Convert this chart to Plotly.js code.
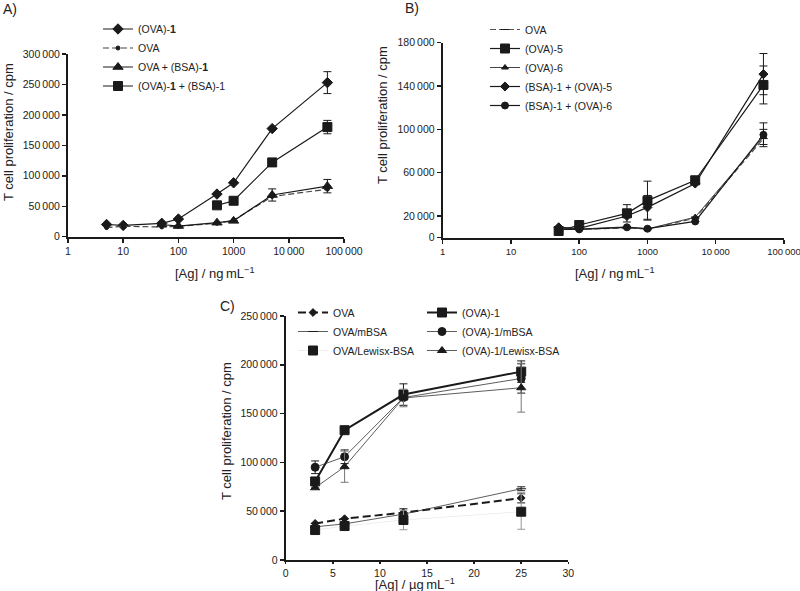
<!DOCTYPE html>
<html lang="en">
<head>
    <meta charset="UTF-8"/>
    <title>T cell proliferation</title>
    <script src="https://cdn.plot.ly/plotly-3.0.1.min.js"></script>
    <style>
    body { margin: 0; background: white; }
    #chart { width: 800px; height: 591px; }
    </style>
</head>
<body>
    <div id="chart"></div>
    <script>
        //=============================================================
        // Data

        // A) antigen in ng/mL, log scale
        var concA = [5, 10, 50, 100, 500, 1000, 5000, 50000];
        var ova1A = [20000, 18500, 22000, 29000, 70000, 88500, 177500, 253000];
        var ova1AErr = [null, null, null, null, null, null, null, 18000];
        var ovaA = [15000, 17000, 16000, 17000, 22000, 27000, 66000, 78000];
        var concA2 = [50, 100, 500, 1000, 5000, 50000];
        var ovaBsa1A = [20000, 17500, 23000, 26000, 68500, 83000];
        var ovaBsa1AErr = [null, null, null, null, 10000, 11000];
        var concA3 = [500, 1000, 5000, 50000];
        var ova1Bsa1A = [51500, 59000, 122000, 180000];
        var ova1Bsa1AErr = [null, null, null, 11000];

        // B)
        var concB = [50, 100, 500, 1000, 5000, 50000];
        var ovaB = [7500, 7700, 9000, 8000, 18000, 91500];
        var ova5B = [6200, 11700, 22500, 34200, 53000, 141000];
        var ova5BErr = [null, null, 8000, 18000, null, 17500];
        var ova6B = [9000, 8000, 10000, 8000, 19000, 93000];
        var ova6BErr = [null, null, null, null, null, 7000];
        var bsa1Ova5B = [9600, 8700, 20000, 28000, 50000, 151000];
        var bsa1Ova5BErr = [null, null, null, 11000, null, 19000];
        var bsa1Ova6B = [7700, 7700, 9600, 8300, 15000, 95000];
        var bsa1Ova6BErr = [null, null, null, null, null, 11000];

        // C) antigen in ug/mL, linear scale
        var concC = [3.125, 6.25, 12.5, 25];
        var ovaC = [37500, 42300, 48500, 63500];
        var ovaCErr = [null, null, 4000, 5000];
        var ovaMbsaC = [34000, 37000, 47000, 73000];
        var ovaMbsaCErr = [null, null, null, 2000];
        var ovaLewisC = [30700, 34800, 41000, 49500];
        var ovaLewisCErr = [3000, null, 10000, 18000];
        var ova1C = [80500, 133000, 169500, 193000];
        var ova1CErr = [null, null, 11000, 11000];
        var ova1MbsaC = [95000, 105800, 166500, 186000];
        var ova1MbsaCErr = [6500, 7000, null, 15000];
        var ova1LewisC = [74000, 95600, 166000, 176500];
        var ova1LewisCErr = [null, 16000, 9000, 25000];

        // tick labels
        var logTicks = [1, 10, 100, 1000, 10000, 100000];
        var logTickText = ['1', '10', '100', '1000', '10\u2009000', '100\u2009000'];
        var yTicksA = [0, 50000, 100000, 150000, 200000, 250000, 300000];
        var yTextA = ['0', '50\u2009000', '100\u2009000', '150\u2009000', '200\u2009000', '250\u2009000', '300\u2009000'];
        var yTicksB = [0, 20000, 60000, 100000, 140000, 180000];
        var yTextB = ['0', '20\u2009000', '60\u2009000', '100\u2009000', '140\u2009000', '180\u2009000'];
        var yTicksC = [0, 50000, 100000, 150000, 200000, 250000];
        var yTextC = ['0', '50\u2009000', '100\u2009000', '150\u2009000', '200\u2009000', '250\u2009000'];
        var xTicksC = [0, 5, 10, 15, 20, 25, 30];

        //=============================================================
        // Traces

        var ink = '#1a1a1a';

        function err(arr, color) {
            return { type: 'data', array: arr, visible: true, color: color || ink, thickness: 1, width: 4 };
        }

        function trace(name, x, y, e, ax, legend, symbol, size, lineOpts, errColor) {
            return {
                name: name, x: x, y: y, type: 'scatter', mode: 'lines+markers',
                xaxis: ax[0], yaxis: ax[1], legend: legend,
                line: Object.assign({ color: ink, width: 1.2 }, lineOpts),
                marker: { symbol: symbol, size: size, color: ink, line: { color: ink, width: 1 } },
                error_y: e ? err(e, errColor) : { visible: false }
            };
        }

        var A = ['x', 'y'], B = ['x2', 'y2'], C = ['x3', 'y3'];

        var data = [
            trace('(OVA)-<b>1</b>', concA, ova1A, ova1AErr, A, 'legend', 'diamond', 8),
            trace('OVA', concA, ovaA, null, A, 'legend', 'circle', 4, { dash: '6px,3px', color: '#444' }),
            trace('OVA + (BSA)-<b>1</b>', concA2, ovaBsa1A, ovaBsa1AErr, A, 'legend', 'triangle-up', 9),
            trace('(OVA)-<b>1</b> + (BSA)-1', concA3, ova1Bsa1A, ova1Bsa1AErr, A, 'legend', 'square', 9),

            trace('OVA', concB, ovaB, null, B, 'legend2', 'line-ew', 6, { dash: '6px,3px', color: '#555' }),
            trace('(OVA)-5', concB, ova5B, ova5BErr, B, 'legend2', 'square', 9),
            trace('(OVA)-6', concB, ova6B, ova6BErr, B, 'legend2', 'triangle-up', 6, { color: '#444', width: 1 }),
            trace('(BSA)-1 + (OVA)-5', concB, bsa1Ova5B, bsa1Ova5BErr, B, 'legend2', 'diamond', 7),
            trace('(BSA)-1 + (OVA)-6', concB, bsa1Ova6B, bsa1Ova6BErr, B, 'legend2', 'circle', 7),

            trace('OVA', concC, ovaC, ovaCErr, C, 'legend3', 'diamond', 6, { dash: '8px,4px', width: 2 }),
            trace('OVA/mBSA', concC, ovaMbsaC, ovaMbsaCErr, C, 'legend3', 'line-ew', 7, { width: 0.8, color: '#333' }),
            trace('OVA/Lewisx-BSA', concC, ovaLewisC, ovaLewisCErr, C, 'legend3', 'square', 9, { width: 1, color: '#eeeeee' }, '#999'),
            trace('(OVA)-1', concC, ova1C, ova1CErr, C, 'legend4', 'square', 9, { width: 2 }),
            trace('(OVA)-1/mBSA', concC, ova1MbsaC, ova1MbsaCErr, C, 'legend4', 'circle', 8, { width: 0.8, color: '#333' }),
            trace('(OVA)-1/Lewisx-BSA', concC, ova1LewisC, ova1LewisCErr, C, 'legend4', 'triangle-up', 8, { width: 0.8, color: '#333' }, '#777')
        ];

        //=============================================================
        // Layout

        var fontFamily = 'Liberation Sans, Arial, sans-serif';
        var tickFont = { family: fontFamily, size: 10.5, color: '#222' };

        function axis(domain, anchor, extra) {
            return Object.assign({
                domain: domain, anchor: anchor,
                showline: true, linecolor: ink, linewidth: 2,
                ticks: 'outside', ticklen: 4, tickwidth: 1.5, tickcolor: ink,
                showgrid: false, zeroline: false, tickfont: tickFont,
                tickmode: 'array', fixedrange: true, ticklabeloverflow: 'allow'
            }, extra);
        }

        function legendAt(x, y) {
            return {
                x: x, y: y, xanchor: 'left', yanchor: 'top',
                bgcolor: 'rgba(0,0,0,0)', borderwidth: 0,
                font: { family: fontFamily, size: 10.5, color: '#222' },
                itemwidth: 30, tracegroupgap: 0
            };
        }

        function label(text, x, y, size, angle) {
            return {
                text: text, x: x, y: y, xref: 'paper', yref: 'paper',
                xanchor: 'center', yanchor: 'middle', showarrow: false, textangle: angle || 0,
                font: { family: fontFamily, size: size, color: '#222' }
            };
        }

        var W = 800, H = 591;
        function px(v) { return v / W; }
        function py(v) { return 1 - v / H; }

        var xTitle = '[Ag] / ng\u2009mL<sup>\u22121</sup>';
        var yTitle = 'T cell proliferation / cpm';

        var layout = {
            width: W, height: H,
            margin: { l: 0, r: 0, t: 0, b: 0 },
            paper_bgcolor: 'white', plot_bgcolor: 'white',
            showlegend: true,
            xaxis: axis([px(68), px(344)], 'y', { type: 'log', range: [0, 5], tickvals: logTicks, ticktext: logTickText }),
            yaxis: axis([py(236.7), py(54)], 'x', { range: [0, 300000], tickvals: yTicksA, ticktext: yTextA }),
            xaxis2: axis([px(442.7), px(784)], 'y2', {
                type: 'log', range: [0, 5], tickvals: logTicks, ticktext: logTickText,
                tickfont: { family: fontFamily, size: 9.5, color: '#222' }
            }),
            yaxis2: axis([py(237.7), py(42.7)], 'x2', { range: [0, 180000], tickvals: yTicksB, ticktext: yTextB }),
            xaxis3: axis([px(285.7), px(568.3)], 'y3', { range: [0, 30], tickvals: xTicksC, ticktext: xTicksC.map(String), ticklen: 2 }),
            yaxis3: axis([py(560), py(316)], 'x3', { range: [0, 250000], tickvals: yTicksC, ticktext: yTextC }),
            legend: legendAt(px(98), py(14.5)),
            legend2: legendAt(px(485), py(15)),
            legend3: legendAt(px(293), py(298)),
            legend4: legendAt(px(422), py(298)),
            annotations: [
                label('A)', px(10), py(9), 14),
                label('B)', px(412), py(8), 14),
                label('C)', px(227), py(306), 14),
                label(xTitle, px(214), py(273), 13),
                label(xTitle, px(614), py(273), 13),
                label('[Ag] / \u00b5g\u2009mL<sup>\u22121</sup>', px(415), py(584), 13),
                label(yTitle, px(8), py(132), 13, -90),
                label(yTitle, px(382), py(115), 13, -90),
                label(yTitle, px(226), py(431), 13, -90)
            ]
        };

        Plotly.newPlot('chart', data, layout, { staticPlot: true });
    </script>
</body>
</html>
